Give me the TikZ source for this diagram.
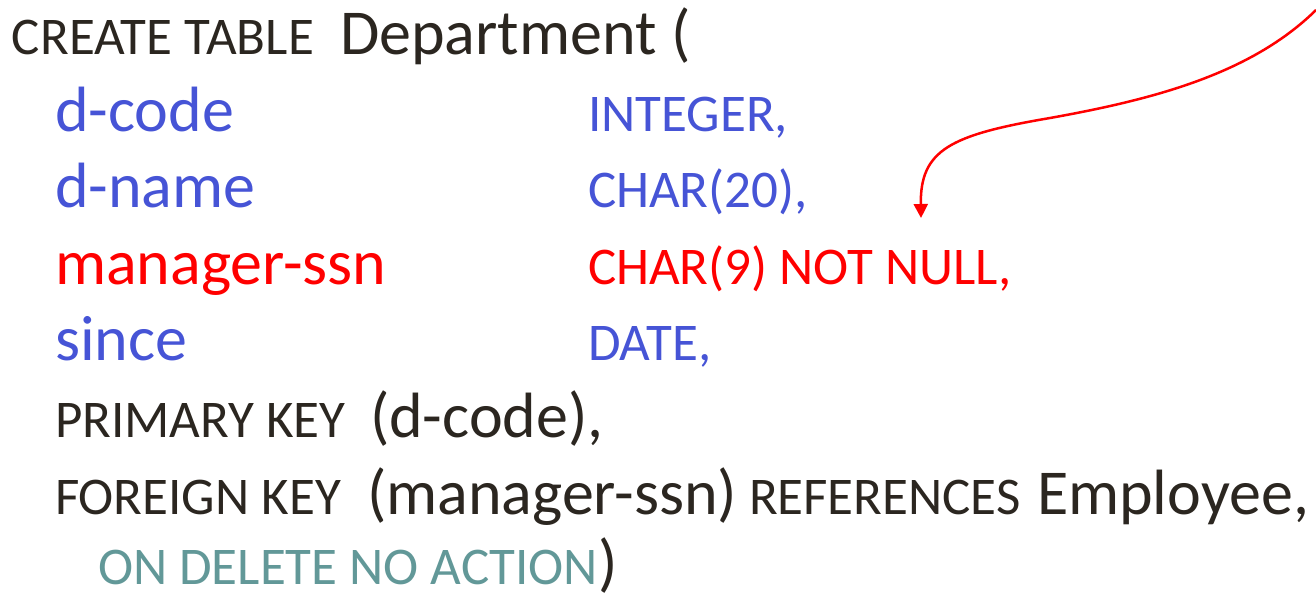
\documentclass[tikz,border=0pt]{standalone}
\usepackage{fontspec}
\setmainfont{Carlito}
\usetikzlibrary{arrows.meta}
\definecolor{ink}{RGB}{43,38,32}
\definecolor{fieldblue}{RGB}{70,84,214}
\definecolor{keyred}{RGB}{255,0,0}
\definecolor{actionteal}{RGB}{98,152,152}
\begin{document}
\begin{tikzpicture}[x=1pt,y=-1pt,
  txt/.style={anchor=base west, inner sep=0pt, outer sep=0pt, text=ink},
  big/.style={txt, font=\fontsize{64}{64}\selectfont},
  small/.style={txt, font=\fontsize{53}{53}\selectfont},
  field/.style={big, text=fieldblue},
  ftype/.style={small, text=fieldblue},
  nnfield/.style={big, text=keyred},
  nntype/.style={small, text=keyred},
  action/.style={small, text=actionteal},
  pointer/.style={keyred, line width=2.5pt, -{Triangle[width=14pt,length=14pt]}}]
\useasboundingbox (0,0) rectangle (1316,598);

% header
\node[small] (create) at (12,54) {CREATE TABLE};
\node[big] (dept) at (340,54) {Department (};

% columns
\node[field] (dcode) at (55,131) {d-code};
\node[ftype] (dcodeT) at (588,131) {INTEGER,};
\node[field] (dname) at (55,207) {d-name};
\node[ftype] (dnameT) at (588,207) {CHAR(20),};
\node[nnfield] (mgr) at (55,284) {manager-ssn};
\node[nntype] (mgrT) at (588,284) {CHAR(9) NOT NULL,};
\node[field] (since) at (55,360) {since};
\node[ftype] (sinceT) at (588,360) {DATE,};

% constraints
\node[small] (pk) at (55,437) {PRIMARY KEY};
\node[big] (pkcol) at (370,437) {(d-code),};
\node[small] (fk) at (55,514) {FOREIGN KEY};
\node[big] (fkcol) at (367,514) {(manager-ssn)};
\node[small] (refs) at (749,514) {REFERENCES};
\node[big] (emp) at (1037,514) {Employee,};
\node[action] (ondel) at (98,584) {ON DELETE NO ACTION};
\node[big] (close) at (ondel.base east) {)};

% pointer into the NOT NULL column
\coordinate (src) at (1316,10);
\coordinate (bend) at (1050,118);
\coordinate (tip) at (921,218);
\draw[pointer] (src) .. controls (1250,75) and (1150,100) .. (bend)
  .. controls (950,135) and (920,150) .. (tip);
\end{tikzpicture}
\end{document}
